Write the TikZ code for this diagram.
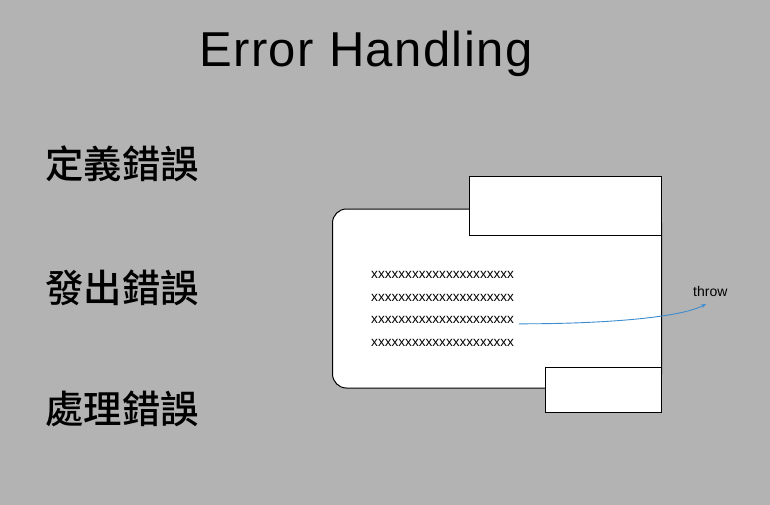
\documentclass[tikz,border=0pt]{standalone}
\usepackage{fontspec}
\setmainfont{Liberation Sans}
\newfontfamily\titlefont[LetterSpace=3]{Liberation Sans}
\newfontfamily\cjk[UprightFont=* Medium]{Noto Sans CJK TC}
\usetikzlibrary{arrows.meta}
\definecolor{bggray}{HTML}{B3B3B3}
\definecolor{arrowblue}{HTML}{3C8DD0}
\tikzset{
  whitebox/.style={draw=black, fill=white, line width=1pt},
  cjklabel/.style={anchor=west, inner sep=0pt, font=\cjk\fontsize{38.4}{40}\selectfont},
  xline/.style={anchor=base west, inner sep=0pt, font=\fontsize{13.6}{15}\selectfont},
}
\begin{document}
\begin{tikzpicture}[x=1pt,y=-1pt]
\useasboundingbox (0,0) rectangle (770,505);
\fill[bggray] (0,0) rectangle (770,505);
\node[anchor=base west, inner sep=0pt, font=\titlefont\fontsize{49}{52}\selectfont] (title) at (199,66.5) {Error Handling};
\node[cjklabel] (define) at (45,164) {定義錯誤};
\node[cjklabel] (raise) at (45,288) {發出錯誤};
\node[cjklabel] (handle) at (45,409) {處理錯誤};
% card
\draw[whitebox, rounded corners=14pt] (332.5,209) rectangle (661.5,388);
\draw[whitebox] (469.5,176.5) rectangle (661.5,235.5) coordinate (topbox);
\draw[whitebox] (545.5,367.5) rectangle (661.5,412.5);
\node[xline] (l1) at (371,278.3) {xxxxxxxxxxxxxxxxxxxxx};
\node[xline] (l2) at (371,301) {xxxxxxxxxxxxxxxxxxxxx};
\node[xline] (l3) at (371,323.3) {xxxxxxxxxxxxxxxxxxxxx};
\node[xline] (l4) at (371,346.7) {xxxxxxxxxxxxxxxxxxxxx};
\node[anchor=base west, inner sep=0pt, font=\fontsize{14}{16}\selectfont] (throw) at (693,296.5) {throw};
\coordinate (tip) at (706,304);
\draw[arrowblue, line width=0.9pt, -{Stealth[length=5pt,width=4pt]}] ([xshift=5pt,yshift=-0.5pt]l3.base east) .. controls (600,324) and (680,318) .. (tip);
\end{tikzpicture}
\end{document}
